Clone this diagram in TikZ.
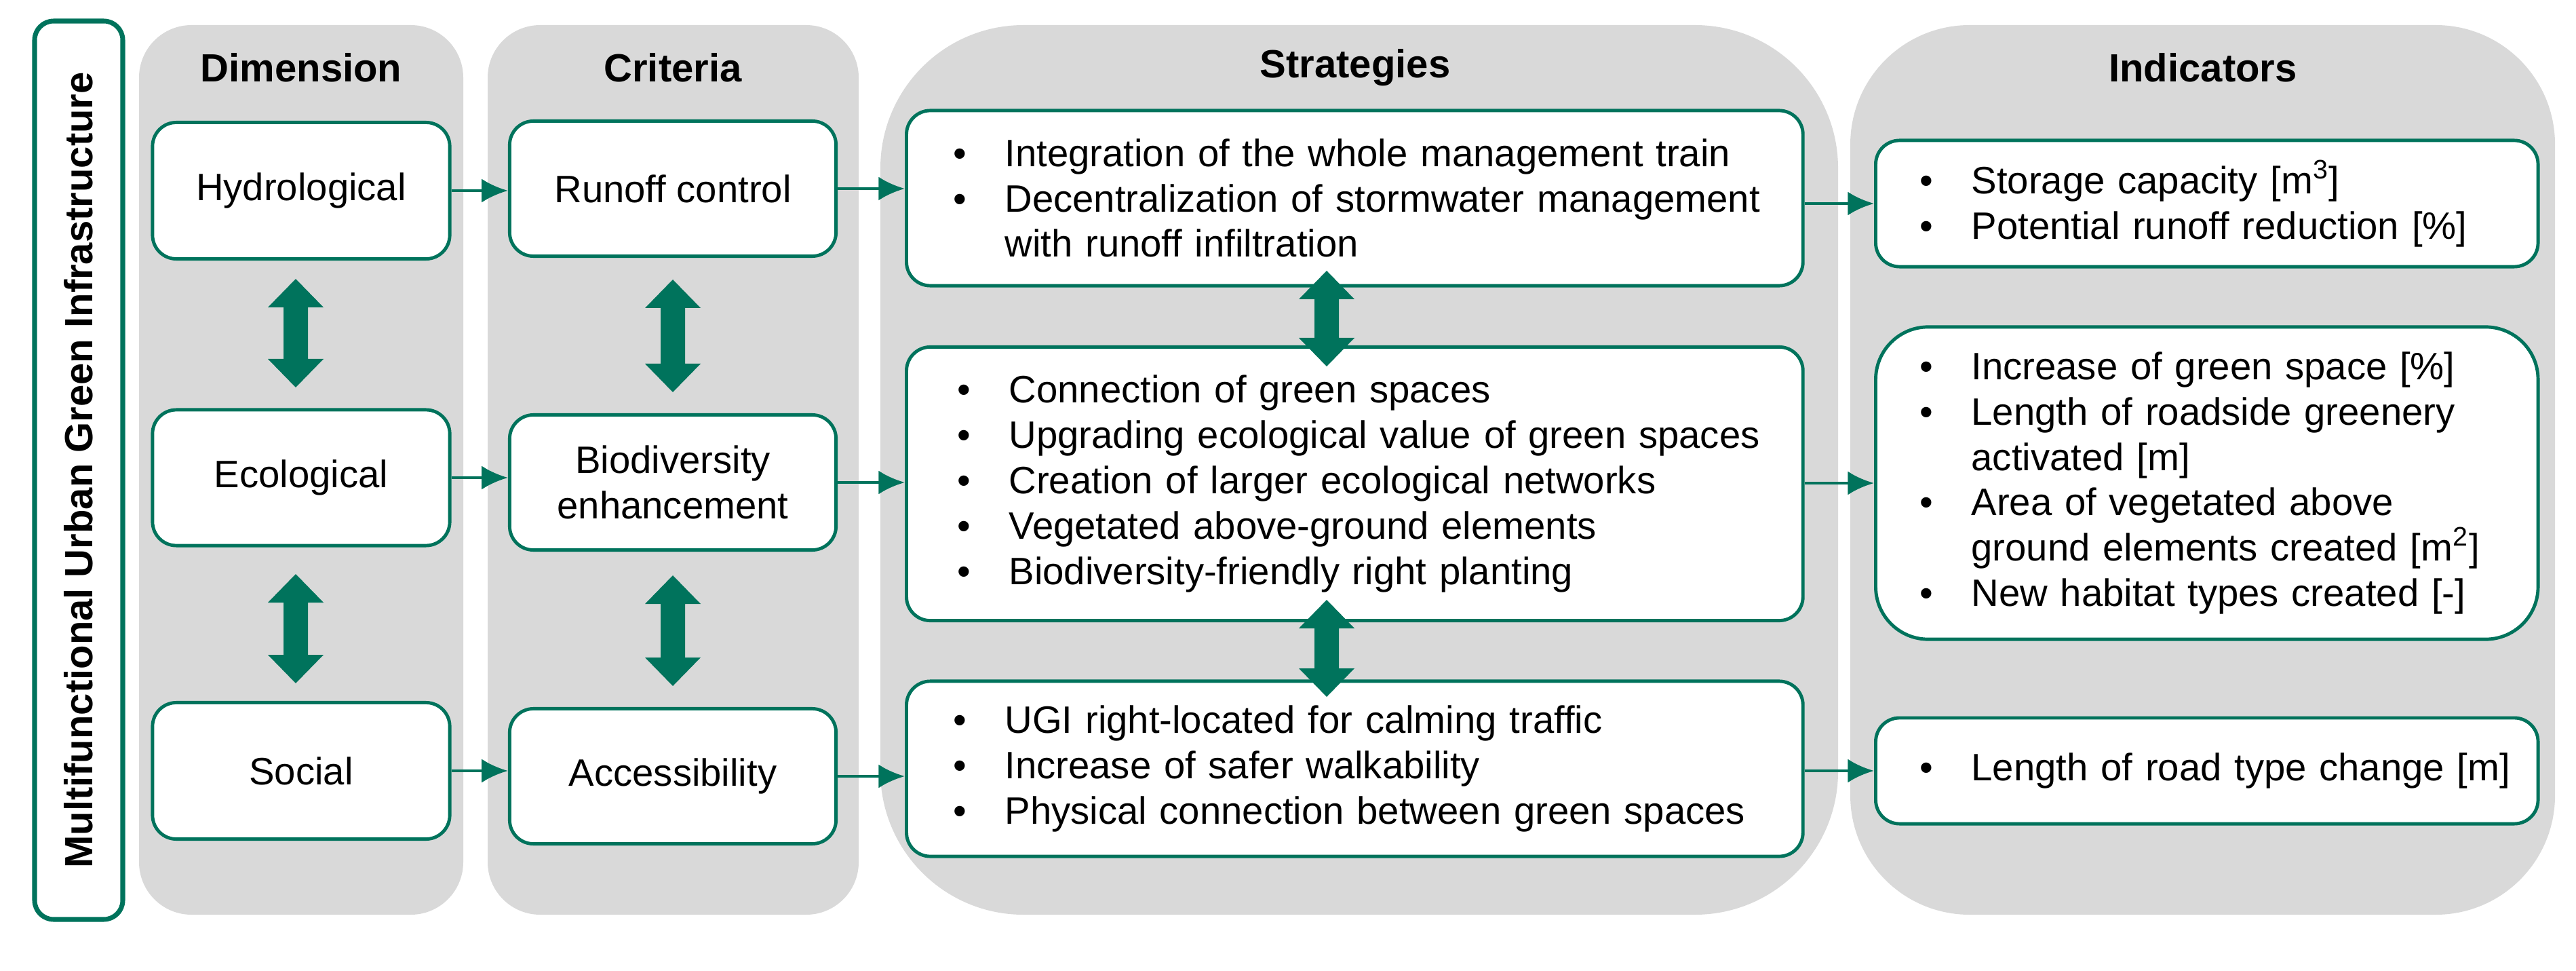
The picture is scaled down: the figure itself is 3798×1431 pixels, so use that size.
\documentclass[tikz,border=0pt]{standalone}
\usepackage{fontspec}
\setmainfont{Liberation Sans}
\usetikzlibrary{arrows.meta}
\definecolor{ugreen}{HTML}{00735C}
\definecolor{ugray}{HTML}{D9D9D9}
\newcommand{\bl}[1]{\makebox[7.6mm][l]{\textbullet}#1}
\newcommand{\cl}[1]{\hspace*{7.6mm}#1}
\newcommand{\dblarrow}[3]{\fill[ugreen] (#1,#2) -- (#1+41,#2+42) -- (#1+18,#2+42) -- (#1+18,#3-42) -- (#1+41,#3-42) -- (#1,#3) -- (#1-41,#3-42) -- (#1-18,#3-42) -- (#1-18,#2+42) -- (#1-41,#2+42) -- cycle;}
\begin{document}
\begin{tikzpicture}[x=0.01cm,y=-0.01cm,
  every node/.style={font=\fontsize{16}{19}\selectfont},
  col/.style={fill=ugray,draw=none},
  box/.style={draw=ugreen,line width=1.4pt,fill=white,rounded corners=10pt,align=center},
  lbox/.style={box,align=left,anchor=west,inner xsep=0pt,execute at begin node={\hyphenpenalty=10000\exhyphenpenalty=10000}},
  hdr/.style={font=\fontsize{16.5}{19}\selectfont\bfseries},
  conn/.style={draw=ugreen,line width=1.4pt,-{Latex[length=11pt,width=10pt]}}]
\useasboundingbox (0,0) rectangle (3798,1431);
% columns
\fill[col,rounded corners=22pt] (205,37) rectangle (683,1348);
\fill[col,rounded corners=22pt] (719,37) rectangle (1266,1348);
\fill[col,rounded corners=60pt] (1298,37) rectangle (2710,1348);
\fill[col,rounded corners=50pt] (2728,37) rectangle (3767,1348);
% left title
\draw[ugreen,line width=2pt,rounded corners=8pt] (51,31) rectangle (181,1355);
\node[hdr,rotate=90] (ttl) at (116,693) {Multifunctional Urban Green Infrastructure};
% headers
\node[hdr] (hd) at (444,100) {Dimension};
\node[hdr] (hc) at (992,100) {Criteria};
\node[hdr] (hs) at (1998,100) {Strategies};
\node[hdr] (hi) at (3248,100) {Indicators};
% dimension
\node[box,minimum width=4.38cm,minimum height=2.01cm] (hyd) at (444,281) {Hydrological};
\node[box,minimum width=4.38cm,minimum height=2.00cm] (eco) at (444,704) {Ecological};
\node[box,minimum width=4.38cm,minimum height=2.01cm] (soc) at (444,1136) {Social};
% criteria
\node[box,minimum width=4.81cm,minimum height=1.99cm] (run) at (992,278) {Runoff control};
\node[box,minimum width=4.81cm,minimum height=1.99cm] (bio) at (992,711) {Biodiversity\\enhancement};
\node[box,minimum width=4.81cm,minimum height=1.99cm] (acc) at (992,1144) {Accessibility};
% strategies
\node[lbox,text width=13.21cm,minimum height=2.58cm] (s1) at (1334,292) {\hspace*{6.9mm}\bl{Integration of the whole management train}\\\hspace*{6.9mm}\bl{Decentralization of stormwater management}\\\hspace*{6.9mm}\cl{with runoff infiltration}};
\node[lbox,text width=13.21cm,minimum height=4.03cm] (s2) at (1334,713) {\hspace*{7.5mm}\bl{Connection of green spaces}\\\hspace*{7.5mm}\bl{Upgrading ecological value of green spaces}\\\hspace*{7.5mm}\bl{Creation of larger ecological networks}\\\hspace*{7.5mm}\bl{Vegetated above-ground elements}\\\hspace*{7.5mm}\bl{Biodiversity-friendly right planting}};
\node[lbox,text width=13.21cm,minimum height=2.58cm] (s3) at (1334,1133) {\hspace*{6.9mm}\bl{UGI right-located for calming traffic}\\\hspace*{6.9mm}\bl{Increase of safer walkability}\\\hspace*{6.9mm}\bl{Physical connection between green spaces}};
% indicators
\node[lbox,text width=9.76cm,minimum height=1.86cm] (i1) at (2763,300) {\hspace*{6.5mm}\bl{Storage capacity [m\textsuperscript{3}]}\\\hspace*{6.5mm}\bl{Potential runoff reduction [\%]}};
\node[lbox,text width=9.76cm,minimum height=4.6cm,rounded corners=22pt] (i2) at (2763,712) {\hspace*{6.5mm}\bl{Increase of green space [\%]}\\\hspace*{6.5mm}\bl{Length of roadside greenery}\\\hspace*{6.5mm}\cl{activated [m]}\\\hspace*{6.5mm}\bl{Area of vegetated above}\\\hspace*{6.5mm}\cl{ground elements created [m\textsuperscript{2}]}\\\hspace*{6.5mm}\bl{New habitat types created [-]}};
\node[lbox,text width=9.76cm,minimum height=1.56cm] (i3) at (2763,1136) {\hspace*{6.5mm}\bl{Length of road type change [m]}};
% connectors
\draw[conn] (hyd.east) -- (run.west |- hyd.east);
\draw[conn] (eco.east) -- (bio.west |- eco.east);
\draw[conn] (soc.east) -- (acc.west |- soc.east);
\draw[conn] (run.east) -- (s1.west |- run.east);
\draw[conn] (bio.east) -- (s2.west |- bio.east);
\draw[conn] (acc.east) -- (s3.west |- acc.east);
\draw[conn] (s1.east |- i1.west) -- (i1.west);
\draw[conn] (s2.east |- i2.west) -- (i2.west);
\draw[conn] (s3.east |- i3.west) -- (i3.west);
% double arrows
\dblarrow{436}{411}{571}
\dblarrow{436}{846}{1007}
\dblarrow{992}{412}{578}
\dblarrow{992}{848}{1011}
\dblarrow{1956}{399}{540}
\dblarrow{1956}{884}{1027}
\end{tikzpicture}
\end{document}
